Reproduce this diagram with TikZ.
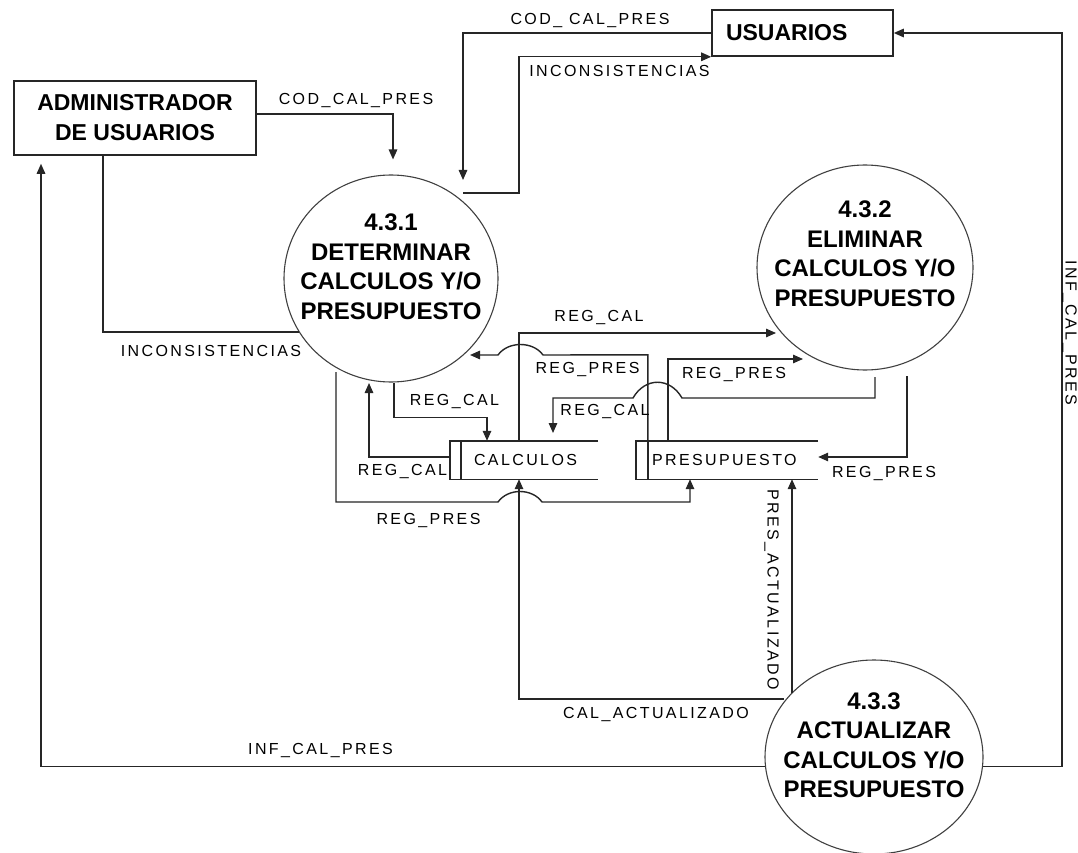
\documentclass[tikz,border=0pt]{standalone}
\usepackage{fontspec}
\setmainfont{Liberation Sans}
\newfontfamily\lblfont[LetterSpace=15]{Liberation Sans}
\usetikzlibrary{arrows.meta,shapes.geometric}
\begin{document}
\begin{tikzpicture}[x=1pt,y=-1pt,
 flow/.style={draw=black!85, line width=1.4pt, -{Triangle[length=10pt,width=8.5pt]}},
 plain/.style={draw=black!85, line width=1.4pt},
 ext/.style={draw=black!85, line width=1.6pt, inner sep=0pt, font=\fontsize{23}{30}\selectfont\bfseries},
 proc/.style={ellipse, draw=black!75, line width=1.1pt, inner sep=0pt},
 ptext/.style={align=center, font=\fontsize{24}{29.5}\selectfont\bfseries, inner sep=0pt},
 lbl/.style={font=\lblfont\fontsize{16}{18}\selectfont, inner sep=0pt},
 storebox/.style={inner sep=0pt, minimum height=38pt, font=\lblfont\fontsize{16}{18}\selectfont}
]
\useasboundingbox (0,0) rectangle (1078,853);
\fill[white] (0,0) rectangle (1078,853);

% external entities
\node[ext, minimum width=242pt, minimum height=74pt, align=center] (adm) at (135,118) {ADMINISTRADOR\\DE USUARIOS};
\node[ext, minimum width=181pt, minimum height=46pt, text width=153pt, inner xsep=14pt, align=left] (usr) at (802.5,33) {USUARIOS};

% processes
\node[proc, minimum width=214pt, minimum height=207pt] (p1) at (391,278.5) {};
\node[proc, minimum width=216pt, minimum height=205pt] (p2) at (865,267.5) {};
\node[proc, minimum width=218pt, minimum height=194pt] (p3) at (874,757) {};
\node[ptext] (t1) at ([yshift=12pt]p1.center) {4.3.1\\DETERMINAR\\CALCULOS Y/O\\PRESUPUESTO};
\node[ptext] (t2) at ([yshift=14pt]p2.center) {4.3.2\\ELIMINAR\\CALCULOS Y/O\\PRESUPUESTO};
\node[ptext] (t3) at ([yshift=12pt]p3.center) {4.3.3\\ACTUALIZAR\\CALCULOS Y/O\\PRESUPUESTO};

% data stores
\node[storebox] (cal) at (524,460) {\makebox[148pt][l]{\hspace*{24pt}CALCULOS}};
\node[storebox] (pres) at (727,460) {\makebox[182pt][l]{\hspace*{16pt}PRESUPUESTO}};
\draw[plain] (cal.north east) -- (cal.north west) -- (cal.south west) -- (cal.south east);
\draw[plain] ([xshift=11pt]cal.north west) -- ([xshift=11pt]cal.south west);
\draw[plain] (pres.north east) -- (pres.north west) -- (pres.south west) -- (pres.south east);
\draw[plain] ([xshift=12pt]pres.north west) -- ([xshift=12pt]pres.south west);

% free ends
\coordinate (c1) at (463,180);
\coordinate (c2) at (463,193);
\coordinate (c6) at (1062,33);
\coordinate (c7) at (784,699);
\coordinate (c8) at (792,693);
\coordinate (c10) at (369,383);
\coordinate (c11) at (336,372);
\coordinate (c12) at (776,333);
\coordinate (c13) at (470,355);
\coordinate (c14) at (803,359);
\coordinate (c15) at (875,377);
\coordinate (c15e) at (553,433);
\coordinate (c16) at (907,376);

% connectors
\draw[flow] (usr.west) -| (c1);
\draw[flow] (c2) -- (519,193) |- (usr.south west);
\draw[flow, shorten >=15pt] ([yshift=4pt]adm.east) -| ([xshift=2pt]p1.north);
\draw[plain] (p1.210) -| ([xshift=-32pt]adm.south);
\draw[flow, shorten >=8pt] (p3.185) -| ([xshift=-94pt]adm.south);
\draw[flow] (p3.355) -| (c6) -- (usr.east);
\draw[flow] (c7) -| ([xshift=-5pt]cal.south);
\draw[flow] (c8) -- (c8 |- pres.south);
\draw[flow] ([xshift=3pt]p1.south) -- ++(0,35) -| ([xshift=-37pt]cal.north);
\draw[flow] ([yshift=3pt]cal.west) -| (c10);
\draw[flow] (c11) -- (336,502) -- (498,502) .. controls (508,488) and (532,488) .. (542,502) -| ([xshift=-37pt]pres.south);
\draw[flow] ([xshift=-5pt]cal.north) |- (c12);
\draw[flow] ([xshift=12pt]pres.north west) -- ++(0,-86) -- (543,355) .. controls (533,341) and (508,341) .. (498,355) -- (c13);
\draw[flow] ([xshift=32pt]pres.north west) |- (c14);
\draw[flow] (c15) -- (875,398) -- (682,398) .. controls (670,377) and (645,377) .. (633,398) -| (c15e);
\draw[flow] (c16) |- ([yshift=3pt]pres.east);

% labels
\node[lbl] (l1) at (590,20.5) {COD\_ CAL\_PRES};
\node[lbl] (l2) at (619.5,71) {INCONSISTENCIAS};
\node[lbl] (l3) at (356,100.5) {COD\_CAL\_PRES};
\node[lbl] (l4) at (211,350.5) {INCONSISTENCIAS};
\node[lbl] (l5) at (320.5,750) {INF\_CAL\_PRES};
\node[lbl, rotate=-90] (l6) at (1069.5,333) {INF\_CAL\_PRES};
\node[lbl] (l7) at (454.5,401.5) {REG\_CAL};
\node[lbl] (l8) at (402.5,471.5) {REG\_CAL};
\node[lbl] (l9) at (428.5,520) {REG\_PRES};
\node[lbl] (l10) at (587.5,369.5) {REG\_PRES};
\node[lbl] (l11) at (605,411.5) {REG\_CAL};
\node[lbl] (l12) at (599,318) {REG\_CAL};
\node[lbl] (l13) at (734,375) {REG\_PRES};
\node[lbl] (l14) at (884,473.5) {REG\_PRES};
\node[lbl] (l15) at (656,714) {CAL\_ACTUALIZADO};
\node[lbl, rotate=-90] (l16) at (771.5,589.5) {PRES\_ACTUALIZADO};
\end{tikzpicture}
\end{document}
